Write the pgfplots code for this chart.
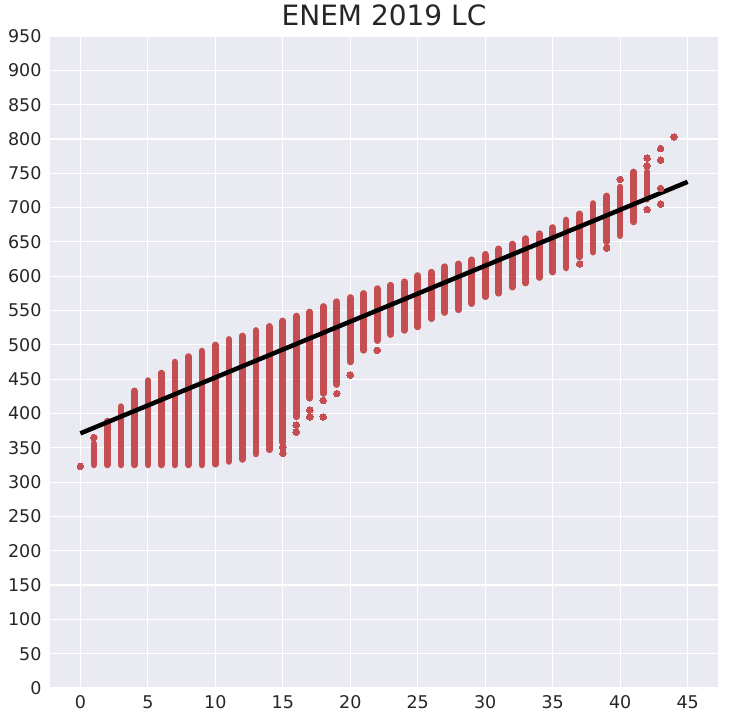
\documentclass[border=0pt]{standalone}
\usepackage{pgfplots}
\usepackage{pgfplotstable}
\pgfplotsset{compat=1.18}
\usepackage{fontspec}
\setmainfont{DejaVu Sans}
\definecolor{bg}{HTML}{EAEAF2}
\definecolor{pt}{HTML}{C44E52}
\definecolor{txt}{HTML}{262626}

% continuous columns of points: bottom and top of each column
\pgfplotstableread{
x y
1 325
1 356
nan nan
2 325
2 389
nan nan
3 325
3 410
nan nan
4 325
4 433
nan nan
5 325
5 448
nan nan
6 325
6 459
nan nan
7 325
7 475
nan nan
8 325
8 483
nan nan
9 325
9 491
nan nan
10 326
10 500
nan nan
11 330
11 508
nan nan
12 333
12 513
nan nan
13 341
13 521
nan nan
14 347
14 527
nan nan
15 358
15 535
nan nan
16 395
16 542
nan nan
17 422
17 548
nan nan
18 429
18 556
nan nan
19 442
19 563
nan nan
20 475
20 569
nan nan
21 492
21 575
nan nan
22 506
22 582
nan nan
23 515
23 587
nan nan
24 521
24 592
nan nan
25 526
25 601
nan nan
26 538
26 606
nan nan
27 547
27 614
nan nan
28 551
28 618
nan nan
29 560
29 624
nan nan
30 570
30 632
nan nan
31 575
31 640
nan nan
32 584
32 647
nan nan
33 590
33 655
nan nan
34 598
34 662
nan nan
35 606
35 671
nan nan
36 612
36 682
nan nan
37 628
37 691
nan nan
38 635
38 706
nan nan
39 650
39 717
nan nan
40 659
40 730
nan nan
41 679
41 752
nan nan
42 712
42 752
}\colstab

% isolated points
\pgfplotstableread{
x y
0 323
1 365
15 342
15 351
16 383
16 373
17 405
17 395
18 419
18 395
19 429
20 456
22 492
37 618
39 641
40 741
42 772
42 761
42 697
43 786
43 769
43 728
43 705
44 803
}\dotstab

\begin{document}
\begin{tikzpicture}
\useasboundingbox (-50pt,-33pt) rectangle (680pt,688pt);
\begin{axis}[
  at={(0,0)}, anchor=south west,
  scale only axis, width=668pt, height=652pt,
  xmin=-2.25, xmax=47.25, ymin=0, ymax=950,
  xtick={0,5,...,45}, ytick={0,50,...,950},
  axis background/.style={fill=bg},
  grid=major, major grid style={white, line width=1.2pt},
  axis line style={draw=none},
  major tick length=0pt,
  tick label style={font=\fontsize{17.5}{20}\selectfont, text=txt},
  /pgf/number format/assume math mode=true,
  /pgf/number format/1000 sep={},
  xticklabel style={yshift=-3.8pt},
  yticklabel style={xshift=-5pt},
  title={ENEM 2019 LC},
  title style={font=\fontsize{28}{34}\selectfont, text=txt, at={(0.5,1)}, anchor=base, yshift=5pt},
  unbounded coords=jump,
]
\addplot[pt, line width=6.6pt, line cap=round] table[x=x, y=y] {\colstab};
\addplot[only marks, color=pt, mark=*, mark size=3.3pt, mark options={fill=pt, draw=pt, line width=0pt}] table[x=x, y=y] {\dotstab};
\addplot[black, line width=4.5pt] coordinates {(0,371) (45,737.5)};
\end{axis}
\end{tikzpicture}
\end{document}
